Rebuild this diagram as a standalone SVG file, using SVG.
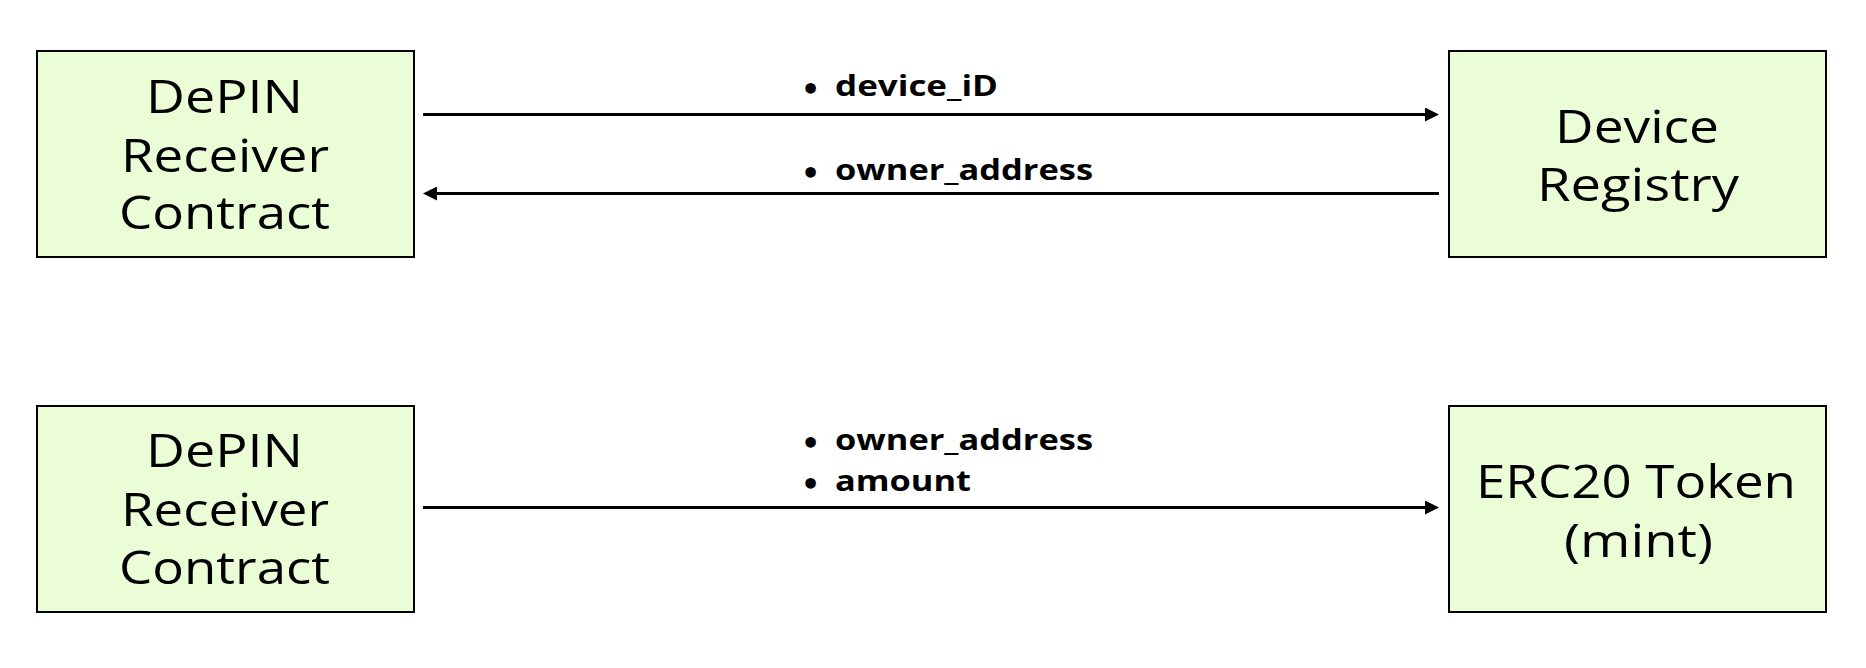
<svg xmlns="http://www.w3.org/2000/svg" width="1866" height="668" viewBox="0 0 1866 668">
<style>
.box{fill:#eafdd6;stroke:#000;stroke-width:2}
.nt{font-family:"Open Sans","Liberation Sans",sans-serif;font-size:46px;fill:#000}
.lb{font-family:"Open Sans","Liberation Sans",sans-serif;font-size:28px;font-weight:bold;fill:#000}
.bu{font-family:"DejaVu Sans",sans-serif;font-size:30px;font-weight:bold;fill:#000}
.cn{stroke:#000;stroke-width:3;fill:none;marker-end:url(#ah)}
</style>
<defs>
<marker id="ah" markerUnits="userSpaceOnUse" markerWidth="14" markerHeight="14" refX="3" refY="7" orient="auto">
<path d="M0,0 L14,7 L0,14 z" fill="#000"/>
</marker>
</defs>
<rect width="1866" height="668" fill="#fff"/>
<g id="node-depin-top">
<rect class="box" x="37" y="51" width="377" height="206"/>
<text class="nt" x="146" y="113" textLength="157" lengthAdjust="spacingAndGlyphs">DePIN</text>
<text class="nt" x="121" y="172" textLength="208" lengthAdjust="spacingAndGlyphs">Receiver</text>
<text class="nt" x="119" y="229" textLength="211" lengthAdjust="spacingAndGlyphs">Contract</text>
</g>
<g id="node-device-registry">
<rect class="box" x="1449" y="51" width="377" height="206"/>
<text class="nt" x="1555" y="143" textLength="164" lengthAdjust="spacingAndGlyphs">Device</text>
<text class="nt" x="1537" y="201" textLength="202" lengthAdjust="spacingAndGlyphs">Registry</text>
</g>
<g id="node-depin-bottom">
<rect class="box" x="37" y="406" width="377" height="206"/>
<text class="nt" x="146" y="467" textLength="157" lengthAdjust="spacingAndGlyphs">DePIN</text>
<text class="nt" x="121" y="526" textLength="208" lengthAdjust="spacingAndGlyphs">Receiver</text>
<text class="nt" x="119" y="584" textLength="211" lengthAdjust="spacingAndGlyphs">Contract</text>
</g>
<g id="node-erc20">
<rect class="box" x="1449" y="406" width="377" height="206"/>
<text class="nt" x="1476" y="498" textLength="320" lengthAdjust="spacingAndGlyphs">ERC20 Token</text>
<text class="nt" x="1564" y="557" textLength="149" lengthAdjust="spacingAndGlyphs">(mint)</text>
</g>
<g id="connectors">
<line class="cn" x1="423" y1="114.5" x2="1428" y2="114.5"/>
<line class="cn" x1="1439" y1="193.5" x2="434" y2="193.5"/>
<line class="cn" x1="423" y1="507.5" x2="1428" y2="507.5"/>
</g>
<g id="labels">
<text class="bu" x="801" y="100">•</text>
<text class="lb" x="835" y="96" textLength="163" lengthAdjust="spacingAndGlyphs">device_iD</text>
<text class="bu" x="801" y="184">•</text>
<text class="lb" x="835" y="180" textLength="258" lengthAdjust="spacingAndGlyphs">owner_address</text>
<text class="bu" x="801" y="454">•</text>
<text class="lb" x="835" y="450" textLength="258" lengthAdjust="spacingAndGlyphs">owner_address</text>
<text class="bu" x="801" y="495">•</text>
<text class="lb" x="835" y="491" textLength="136" lengthAdjust="spacingAndGlyphs">amount</text>
</g>
</svg>
